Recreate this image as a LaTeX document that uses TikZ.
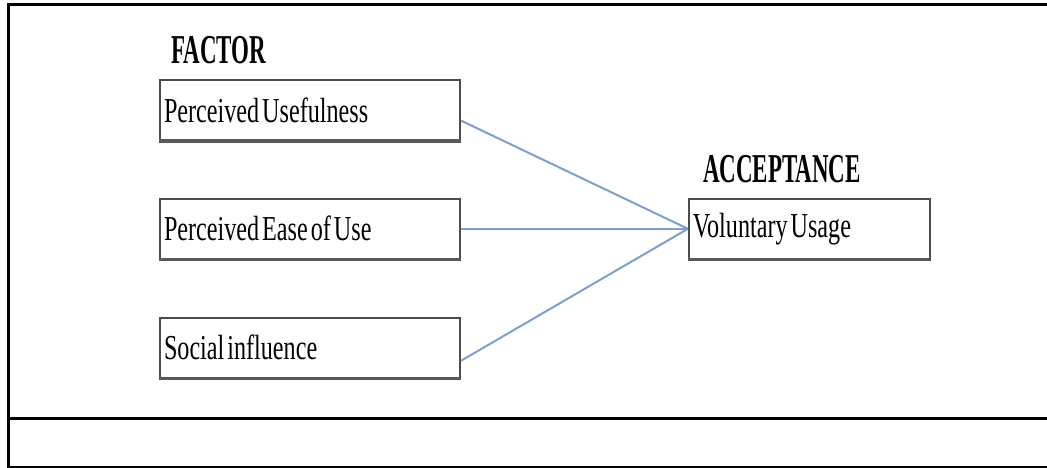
\documentclass[tikz,border=0pt]{standalone}
\usepackage{fontspec}
\setmainfont{Liberation Serif}
\newfontfamily\boxfont{Liberation Serif}[FakeStretch=0.69, WordSpace=0.5]
\newfontfamily\headfont{Liberation Serif}[FakeStretch=0.56]
\usetikzlibrary{positioning, calc}

\begin{document}
\begin{tikzpicture}[
        x=1pt, y=1pt,
        node distance=57pt and 227pt, % gaps between the boxes
        box/.style={rectangle, draw=black!70, line width=1.8pt, minimum width=300pt, minimum height=60pt,
                    text width=292pt, inner xsep=4pt, align=flush left, font=\boxfont\fontsize{35}{40}\selectfont},
        head/.style={inner sep=0pt, text depth=0pt, font=\headfont\bfseries\fontsize{41}{44}\selectfont},
        link/.style={draw={rgb,255:red,125;green,160;blue,205}, line width=2pt},
        shadowline/.style={draw=black!65, line width=3.5pt},
        frame/.style={draw=black, line width=3pt}
    ]
    \useasboundingbox (0,0) rectangle (1047,-468);

    % --- outer frame (open at the right) ---
    \draw[frame] (1047,-5) -- (8,-5) -- (8,-467) -- (1047,-467);
    \draw[frame] (8,-418) -- (1047,-418);

    % --- Nodes ---
    \node[box] (usef) at (310,-110) {Perceived Usefulness};
    \node[box, below=of usef] (ease) {Perceived Ease of Use};
    \node[box, below=of ease] (social) {Social influence};
    \node[box, right=of ease, minimum width=241pt, text width=233pt] (usage) {Voluntary Usage};

    % headings
    \node[head, above right=15pt and 12pt of usef.north west] (factor) {FACTOR};
    \node[head, above right=15pt and 15pt of usage.north west] (accept) {ACCEPTANCE};

    % heavier lower edges
    \foreach \n in {usef, ease, social, usage}
        \draw[shadowline] (\n.south west) -- (\n.south east);

    % --- Edges ---
    \draw[link] (usef.-4.6) -- (usage.west);
    \draw[link] (ease.east) -- (usage.west);
    \draw[link] (social.-5) -- (usage.west);

\end{tikzpicture}
\end{document}
